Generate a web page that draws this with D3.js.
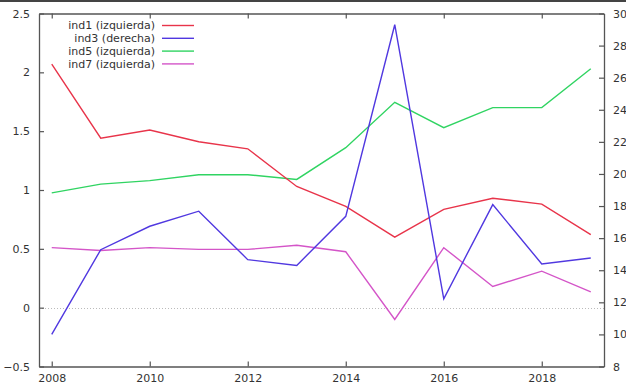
<!DOCTYPE html>
<html>
<head>
<meta charset="utf-8">
<script src="https://cdn.jsdelivr.net/npm/d3@7"></script>
<style>
  html, body { margin: 0; padding: 0; background: #fff; }
  svg { display: block; font-family: "DejaVu Sans", Verdana, sans-serif; }
</style>
</head>
<body>
<svg id="chart" width="626" height="387"></svg>
<script>
// Years on the x axis
const years = [2008, 2009, 2010, 2011, 2012, 2013, 2014, 2015, 2016, 2017, 2018, 2019];

// Series plotted against the left axis
const ind1 = [2.07, 1.44, 1.51, 1.41, 1.35, 1.03, 0.86, 0.60, 0.835, 0.93, 0.88, 0.62];
const ind5 = [0.976, 1.05, 1.08, 1.13, 1.13, 1.09, 1.36, 1.745, 1.53, 1.70, 1.70, 2.03];
const ind7 = [0.51, 0.486, 0.51, 0.495, 0.495, 0.53, 0.475, -0.10, 0.51, 0.18, 0.31, 0.135];

// Series plotted against the right axis
const ind3 = [10.0, 15.28, 16.74, 17.68, 14.66, 14.3, 17.36, 29.3, 12.22, 18.09, 14.39, 14.76];

// Tick values
const xTicks = [2008, 2010, 2012, 2014, 2016, 2018];
const yLeftTicks = [-0.5, 0, 0.5, 1, 1.5, 2, 2.5];
const yRightTicks = [8, 10, 12, 14, 16, 18, 20, 22, 24, 26, 28, 30];

// Legend entries (drawing order)
const legendLabels = ["ind1 (izquierda)", "ind3 (derecha)", "ind5 (izquierda)", "ind7 (izquierda)"];

const svg = d3.select("#chart");
const frame = { left: 39, right: 604, top: 13.5, bottom: 366.5 };
const axisColor = "#555";
const textColor = "#333";

const x = d3.scaleLinear().domain([2007.74, 2019.27]).range([frame.left, frame.right]);
const yL = d3.scaleLinear().domain([-0.5, 2.5]).range([frame.bottom, frame.top]);
const yR = d3.scaleLinear().domain([8, 30]).range([frame.bottom, frame.top]);

// Dark rule along the top edge of the image
svg.append("rect").attr("x", 0).attr("y", 0).attr("width", 626).attr("height", 2).attr("fill", "#444");

// Dotted zero line
svg.append("line")
  .attr("x1", frame.left).attr("x2", frame.right)
  .attr("y1", Math.round(yL(0)) + 0.5).attr("y2", Math.round(yL(0)) + 0.5)
  .attr("stroke", "#bbb").attr("stroke-width", 1).attr("stroke-dasharray", "1,2");

// Axes (ticks point inward)
const tickLen = 5;
const gBottom = svg.append("g").attr("transform", `translate(0,${frame.bottom})`)
  .call(d3.axisBottom(x).tickValues(xTicks).tickFormat(d3.format("d")).tickSizeInner(-tickLen).tickSizeOuter(0).tickPadding(8));
const gTop = svg.append("g").attr("transform", `translate(0,${frame.top})`)
  .call(d3.axisTop(x).tickValues(xTicks).tickFormat("").tickSizeInner(-tickLen).tickSizeOuter(0));
const gLeft = svg.append("g").attr("transform", `translate(${frame.left},0)`)
  .call(d3.axisLeft(yL).tickValues(yLeftTicks).tickFormat(d3.format("")).tickSizeInner(-tickLen).tickSizeOuter(0).tickPadding(9));
const gRight = svg.append("g").attr("transform", `translate(${frame.right},0)`)
  .call(d3.axisRight(yR).tickValues(yRightTicks).tickFormat(d3.format("d")).tickSizeInner(-tickLen).tickSizeOuter(0).tickPadding(9));

[gBottom, gTop, gLeft, gRight].forEach(g => {
  g.select(".domain").attr("stroke", axisColor).attr("stroke-width", 1.3);
  g.selectAll(".tick line").attr("stroke", axisColor).attr("stroke-width", 1.2);
  g.selectAll(".tick text").attr("fill", textColor).style("font-size", "11px")
    .style("font-family", "'DejaVu Sans', Verdana, sans-serif");
});

// Series lines
const series = [
  { name: legendLabels[0], values: ind1, scale: yL, color: "#e8344a" },
  { name: legendLabels[1], values: ind3, scale: yR, color: "#5038e0" },
  { name: legendLabels[2], values: ind5, scale: yL, color: "#30d462" },
  { name: legendLabels[3], values: ind7, scale: yL, color: "#d455c8" }
];

const drawOrder = [2, 0, 3, 1];
drawOrder.forEach(i => {
  const s = series[i];
  const line = d3.line().x((d, j) => x(years[j])).y(d => s.scale(d));
  svg.append("path")
    .datum(s.values)
    .attr("d", line)
    .attr("fill", "none")
    .attr("stroke", s.color)
    .attr("stroke-width", 1.4)
    .attr("stroke-linejoin", "miter");
});

// Legend
const legend = svg.append("g");
series.forEach((s, i) => {
  const yy = 25.5 + i * 12.8;
  legend.append("text")
    .attr("x", 155).attr("y", yy).attr("dy", "0.35em")
    .attr("text-anchor", "end")
    .attr("fill", textColor)
    .style("font-size", "11px")
    .text(s.name);
  legend.append("line")
    .attr("x1", 162).attr("x2", 194)
    .attr("y1", yy).attr("y2", yy)
    .attr("stroke", s.color).attr("stroke-width", 1.4);
});
</script>
</body>
</html>
